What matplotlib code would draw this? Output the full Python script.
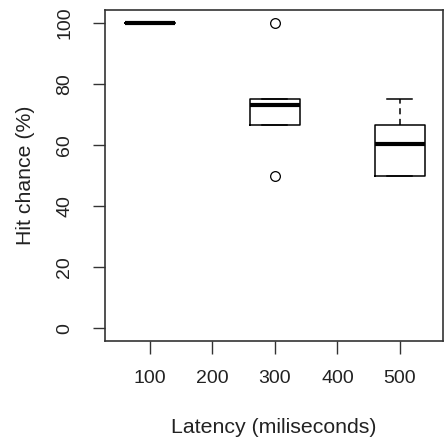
import matplotlib
matplotlib.use("Agg")
import matplotlib.pyplot as plt

plt.rcParams['font.family'] = ['Liberation Sans', 'DejaVu Sans']

# categories on the x axis (all levels, some without data)
latency = ['100', '200', '300', '400', '500']
# groups that have a box, and their summary stats
box_groups = ['100', '300', '500']
q1 = [100, 66.7, 50]
med = [100, 73, 60.5]
q3 = [100, 75, 66.7]
whis_lo = [100, 66.7, 50]
whis_hi = [100, 75, 75]
fliers = [[], [100, 50], []]

stats = []
for i in range(len(box_groups)):
    stats.append(dict(q1=q1[i], med=med[i], q3=q3[i],
                      whislo=whis_lo[i], whishi=whis_hi[i],
                      fliers=fliers[i], label=box_groups[i]))
pos = [latency.index(g) + 1 for g in box_groups]

fig = plt.figure(figsize=(4.44, 4.45), dpi=100)
ax = fig.add_axes([105/444, 1 - 341/445, 338/444, 331/445])

ax.bxp(stats, positions=pos, widths=0.8, capwidths=0.4,
       boxprops=dict(color='black', lw=1.1),
       medianprops=dict(color='black', lw=3.0, solid_capstyle='butt'),
       whiskerprops=dict(color='black', lw=1.1, linestyle=(0, (4, 3))),
       capprops=dict(color='black', lw=1.1),
       flierprops=dict(marker='o', markerfacecolor='none',
                       markeredgecolor='black', markersize=7, markeredgewidth=0.9),
       manage_ticks=False)

ax.set_xlim(0.28, 5.69)
ax.set_ylim(-4.2, 104.3)
ax.set_xticks(range(1, len(latency) + 1))
ax.set_xticklabels(latency)
ax.set_yticks([0, 20, 40, 60, 80, 100])
ax.set_yticklabels(['0', '20', '40', '60', '80', '100'], rotation=90, va='center')

for s in ax.spines.values():
    s.set_color('#333333')
    s.set_linewidth(1.2)
ax.tick_params(length=9, width=1.0, color='#333333', labelsize=14,
               labelcolor='#222222')
ax.tick_params(axis='x', pad=12)
ax.tick_params(axis='y', pad=14)

ax.set_xlabel("Latency (miliseconds)", fontsize=15.3, color='#222222', labelpad=22)
ax.set_ylabel("Hit chance (%)", fontsize=15.3, color='#222222', labelpad=15)

fig.savefig("out.png", dpi=100)
